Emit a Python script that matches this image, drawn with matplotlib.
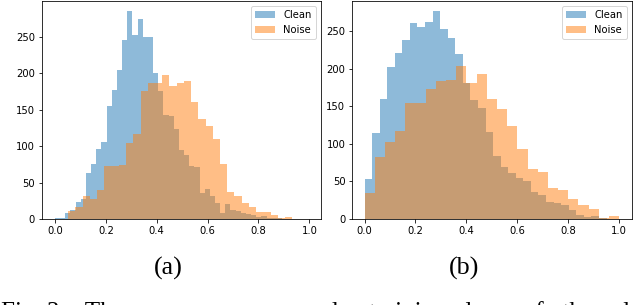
import numpy as np
import matplotlib.pyplot as plt

# histogram counts (bins are evenly spaced over each range)
clean_a = [1, 2, 8, 12, 23, 27, 63, 75, 96, 106, 155, 177, 205, 245, 285, 253, 274, 250, 250, 201,
           175, 143, 142, 124, 95, 88, 73, 72, 36, 41, 31, 22, 8, 21, 12, 11, 8, 7, 5, 3, 4, 2, 1, 1]
clean_a_range = (0.0, 0.893)
noise_a = [11, 16, 31, 27, 40, 73, 73, 74, 104, 117, 175, 187, 186, 198, 183, 187, 190, 160, 137, 128,
           110, 75, 37, 31, 22, 16, 9, 10, 5, 1, 3]
noise_a_range = (0.0523, 0.933)

clean_b = [53, 114, 160, 202, 220, 238, 261, 255, 262, 276, 252, 240, 219, 181, 158, 147, 115, 84, 69, 61,
           54, 50, 36, 32, 23, 21, 19, 12, 5, 2, 4, 1, 0]
clean_b_range = (0.0, 0.98)
noise_b = [34, 83, 103, 117, 154, 154, 173, 183, 185, 203, 181, 193, 159, 146, 124, 93, 67, 62, 41, 38,
           27, 19, 13, 1, 4]
noise_b_range = (0.0, 1.0)

labels = ['Clean', 'Noise']
sub_captions = ['(a)', '(b)']
caption = 'Fig. 3:   The   average   per-sample   training   loss   of   the   clean   and   noisy'

fig = plt.figure(figsize=(640 / 72, 305 / 72), dpi=72)
ax_a = fig.add_axes([0.0656, 0.282, 0.4352, 0.7148])
ax_b = fig.add_axes([0.5505, 0.282, 0.4365, 0.7148])


def draw(ax, clean, crange, noise, nrange, xlim):
    for counts, rng, lab in ((clean, crange, labels[0]), (noise, nrange, labels[1])):
        edges = np.linspace(rng[0], rng[1], len(counts) + 1)
        ax.hist(edges[:-1], bins=edges, weights=counts, alpha=0.5, label=lab)
    ax.set_xlim(*xlim)
    ax.set_xticks([0.0, 0.2, 0.4, 0.6, 0.8, 1.0])
    ax.set_yticks([0, 50, 100, 150, 200, 250])
    ax.legend(loc='upper right')


draw(ax_a, clean_a, clean_a_range, noise_a, noise_a_range, (-0.051, 1.044))
draw(ax_b, clean_b, clean_b_range, noise_b, noise_b_range, (-0.048, 1.049))

fig.text(168 / 640, 1 - 268 / 305, sub_captions[0], family='Liberation Serif', fontsize=26,
         ha='center', va='center')
fig.text(464 / 640, 1 - 268 / 305, sub_captions[1], family='Liberation Serif', fontsize=26,
         ha='center', va='center')
# the page caption is cut by the bottom edge in the original, only its top shows
fig.text(0.002, 1 - 319 / 305, caption, family='Liberation Serif', fontsize=25,
         ha='left', va='baseline')

fig.savefig('out.png', dpi=72)
